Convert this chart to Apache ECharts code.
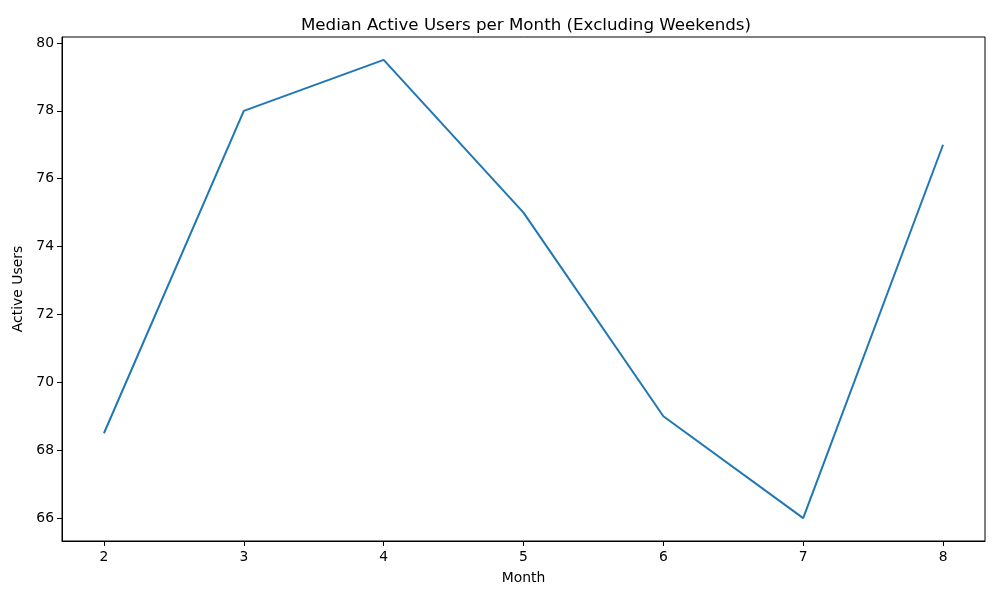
<!DOCTYPE html>
<html>
<head>
<meta charset="utf-8">
<script src="https://cdn.jsdelivr.net/npm/echarts@6/dist/echarts.min.js"></script>
<style>html,body{margin:0;padding:0;background:#fff;}#c{width:1000px;height:600px;}</style>
</head>
<body>
<div id="c"></div>
<script>
const months = [2, 3, 4, 5, 6, 7, 8];
const activeUsers = [68.5, 78, 79.5, 75, 69, 66, 77];
const xTicks = [2, 3, 4, 5, 6, 7, 8];
const yTicks = [66, 68, 70, 72, 74, 76, 78, 80];

const font = 'DejaVu Sans';
const chart = echarts.init(document.getElementById('c'));
chart.setOption({
  animation: false,
  backgroundColor: '#fff',
  title: {
    text: 'Median Active Users per Month (Excluding Weekends)',
    left: 521, top: 12, textAlign: 'center',
    textStyle: { fontFamily: font, fontSize: 16.7, fontWeight: 'normal', color: '#000' }
  },
  grid: { left: 62, right: 15, top: 37, bottom: 59, show: true, borderColor: '#000', borderWidth: 1, containLabel: false },
  xAxis: {
    type: 'value', min: 1.7, max: 8.3,
    name: 'Month', nameLocation: 'middle', nameGap: 30,
    nameTextStyle: { fontFamily: font, fontSize: 13.9, color: '#000' },
    axisLine: { show: true, onZero: false, lineStyle: { color: '#000', width: 1 } },
    axisTick: { show: true, customValues: xTicks, length: 5, lineStyle: { color: '#000' } },
    axisLabel: { customValues: xTicks, fontFamily: font, fontSize: 13.9, color: '#000', margin: 9 },
    splitLine: { show: false }
  },
  yAxis: {
    type: 'value', min: 65.325, max: 80.175,
    name: 'Active Users', nameLocation: 'middle', nameGap: 33, nameRotate: 90,
    nameTextStyle: { fontFamily: font, fontSize: 13.9, color: '#000' },
    axisLine: { show: true, onZero: false, lineStyle: { color: '#000', width: 1 } },
    axisTick: { show: true, customValues: yTicks, length: 5, lineStyle: { color: '#000' } },
    axisLabel: { customValues: yTicks, fontFamily: font, fontSize: 13.9, color: '#000', margin: 8 },
    splitLine: { show: false }
  },
  series: [{
    type: 'line',
    data: months.map((m, i) => [m, activeUsers[i]]),
    showSymbol: false,
    lineStyle: { color: '#1f77b4', width: 2 },
    itemStyle: { color: '#1f77b4' }
  }]
});
</script>
</body>
</html>
